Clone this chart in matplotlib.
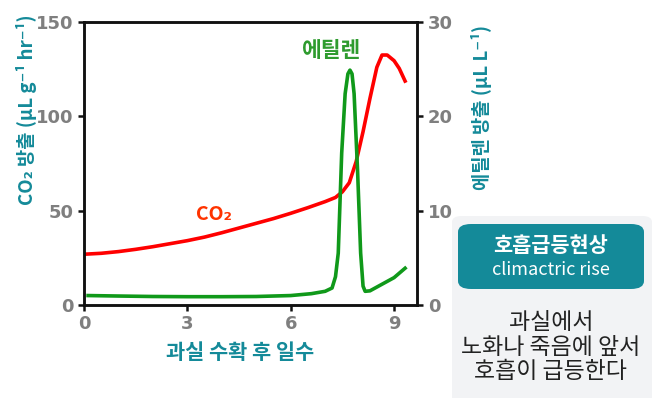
import matplotlib
matplotlib.use('Agg')
import matplotlib.pyplot as plt
from matplotlib.patches import FancyBboxPatch

plt.rcParams['font.family'] = ['Noto Sans CJK KR', 'DejaVu Sans']

# days after harvest
co2_days = [0, 0.5, 1, 1.5, 2, 2.5, 3, 3.5, 4, 4.5, 5, 5.5, 6, 6.5, 7, 7.3, 7.5,
            7.7, 7.9, 8.1, 8.3, 8.5, 8.65, 8.8, 9.0, 9.15, 9.32]
co2_vals = [26.9, 27.4, 28.3, 29.5, 30.9, 32.5, 34.1, 36.0, 38.3, 40.8, 43.3, 45.8,
            48.6, 51.6, 54.8, 57.0, 60.0, 64.8, 76.0, 91.9, 109.5, 126.0, 132.5,
            132.5, 129.5, 125.4, 118.7]

eth_days = [0.12, 1.0, 2.0, 3.0, 4.0, 5.0, 6.0, 6.6, 7.0, 7.2, 7.3, 7.38, 7.48, 7.58,
            7.66, 7.72, 7.78, 7.84, 7.94, 8.03, 8.10, 8.16, 8.3, 8.5, 8.7, 9.0, 9.32]
eth_vals = [1.0, 0.95, 0.9, 0.88, 0.88, 0.9, 1.0, 1.2, 1.45, 1.8, 3.0, 5.5, 16.1, 22.4,
            24.5, 24.9, 24.5, 22.4, 14.3, 5.5, 2.0, 1.45, 1.5, 1.9, 2.3, 2.9, 3.9]

x_ticks = [0, 3, 6, 9]
left_ticks = [0, 50, 100, 150]
right_ticks = [0, 10, 20, 30]

teal = '#148a99'
gray = '#7f7f7f'

fig = plt.figure(figsize=(6.55, 3.98), dpi=100)
ax = fig.add_axes([0.1282, 0.2337, 0.5092, 0.711])
ax2 = ax.twinx()

ax.plot(co2_days, co2_vals, color='#ff0000', lw=2.6, solid_joinstyle='round')
ax2.plot(eth_days, eth_vals, color='#10991a', lw=2.6, solid_joinstyle='round')

ax.set_xlim(0, 9.68)
ax.set_ylim(0, 150)
ax2.set_ylim(0, 30)
ax.set_xticks(x_ticks)
ax.set_yticks(left_ticks)
ax2.set_yticks(right_ticks)

for a in (ax, ax2):
    for s in a.spines.values():
        s.set_linewidth(1.8)
        s.set_color('#111111')
    a.tick_params(direction='out', length=4, width=1.8, colors='#111111',
                  labelcolor=gray, labelsize=13, labelfontfamily='DejaVu Sans')
    plt.setp(a.get_xticklabels() + a.get_yticklabels(), fontweight='bold')

ax.set_xlabel('과실 수확 후 일수', color=teal, fontsize=15, fontweight='bold')
ax.xaxis.set_label_coords(0.468, -0.13)
ax.set_ylabel('CO₂ 방출 (μL g⁻¹ hr⁻¹)', color=teal, fontsize=13.5, fontweight='bold')
ax.yaxis.set_label_coords(-0.14, 0.689)
ax2.set_ylabel('에틸렌 방출 (μL L⁻¹)', color=teal, fontsize=13.5, fontweight='bold',
               rotation=90)
ax2.yaxis.set_label_coords(1.16, 0.698)

ax.text(7.2, 135, '에틸렌', color='#2e9b2e', fontsize=15.5, fontweight='bold',
        ha='center', va='center')
ax.text(3.77, 48, 'CO₂', color='#ff3300', fontsize=14, fontweight='bold',
        ha='center', va='center')

# side note box
bg = FancyBboxPatch((452 / 655, -0.05), 200 / 655, (398 - 216) / 398 + 0.05,
                    boxstyle='round,pad=0,rounding_size=0.015', transform=fig.transFigure,
                    facecolor='#f2f3f5', edgecolor='none')
fig.patches.append(bg)
hd = FancyBboxPatch((458 / 655, 1 - 289 / 398), 186 / 655, 65 / 398,
                    boxstyle='round,pad=0,rounding_size=0.02', transform=fig.transFigure,
                    facecolor=teal, edgecolor='none')
fig.patches.append(hd)
fig.text(551 / 655, 1 - 246 / 398, '호흡급등현상', color='white', fontsize=15,
         fontweight='bold', ha='center', va='center')
fig.text(551 / 655, 1 - 270 / 398, 'climactric rise', color='white', fontsize=13,
         ha='center', va='center')
fig.text(551 / 655, 1 - 347 / 398, '과실에서\n노화나 죽음에 앞서\n호흡이 급등한다',
         color='#222222', fontsize=16.5, ha='center', va='center', linespacing=1.08)

fig.savefig('out.png', dpi=100)
